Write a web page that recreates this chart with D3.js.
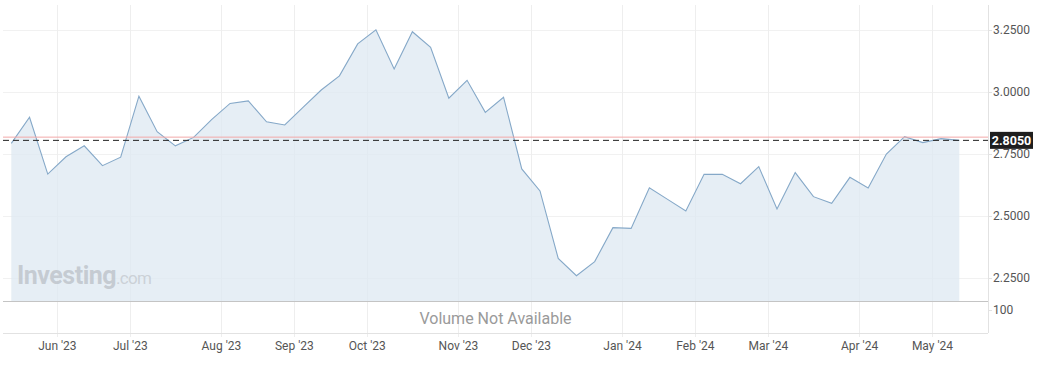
<!DOCTYPE html>
<html><head><meta charset="utf-8">
<script src="https://cdn.jsdelivr.net/npm/d3@7"></script>
<style>
html,body{margin:0;padding:0;background:#fff;}
svg{display:block;font-family:Roboto,"Noto Sans",sans-serif;}
</style></head>
<body><svg id="c" width="1041" height="369"></svg>
<script>
// ---- data ----
const startWeek = new Date(2023, 4, 14);
const values = [2.793,2.898,2.669,2.739,2.783,2.703,2.737,2.983,2.840,2.783,2.817,2.890,2.954,2.964,2.880,2.867,2.938,3.008,3.065,3.194,3.251,3.093,3.243,3.180,2.975,3.047,2.918,2.979,2.690,2.601,2.329,2.259,2.316,2.453,2.450,2.614,2.567,2.520,2.668,2.668,2.630,2.699,2.528,2.675,2.578,2.551,2.656,2.613,2.750,2.820,2.796,2.812,2.805];
const yTicks = [2.25, 2.5, 2.75, 3.0, 3.25];
const monthLabels = ["Jun '23","Jul '23","Aug '23","Sep '23","Oct '23","Nov '23","Dec '23","Jan '24","Feb '24","Mar '24","Apr '24","May '24"];
const currentValue = 2.805;
const refValue = 2.818;
const volumeTickLabel = "100";

// ---- layout ----
const svg = d3.select("#c");
const L = 3, R = 988, T = 5, B = 301, VB = 333;
const dates = values.map((v, i) => d3.timeWeek.offset(startWeek, i));
const x = d3.scaleLinear().domain([0, values.length - 1]).range([11.3, 959.3]);
const y = d3.scaleLinear().domain([2.25, 3.25]).range([278, 30]);

// month ticks at boundary between weeks of different months
const tickPos = [];
for (let i = 1; i < dates.length; i++) {
  if (dates[i].getMonth() !== dates[i-1].getMonth()) tickPos.push(i - 0.5);
}

// gridlines
const grid = svg.append("g");
grid.selectAll(".hg").data(yTicks).join("line")
  .attr("x1", L).attr("x2", R)
  .attr("y1", d => Math.round(y(d)) + 0.5).attr("y2", d => Math.round(y(d)) + 0.5)
  .attr("stroke", "#f1f1f1");
grid.selectAll(".vg").data(tickPos).join("line")
  .attr("x1", d => Math.round(x(d)) + 0.5).attr("x2", d => Math.round(x(d)) + 0.5)
  .attr("y1", T).attr("y2", VB + 4)
  .attr("stroke", "#eeeeee");

// area + line
const area = d3.area().x((d, i) => x(i)).y0(B).y1(d => y(d));
const line = d3.line().x((d, i) => x(i)).y(d => y(d));
svg.append("path").datum(values).attr("d", area).attr("fill", "#dde8f1").attr("fill-opacity", 0.75);

// watermark
const wm = svg.append("text").attr("x", 17).attr("y", 284);
wm.append("tspan").text("Investing").attr("font-size", 25).attr("font-weight", 700)
  .attr("fill", "#bfc5cc").attr("fill-opacity", 0.85).attr("letter-spacing", -0.5);
wm.append("tspan").text(".com").attr("font-size", 17).attr("fill", "#c6ccd2").attr("fill-opacity", 0.85)
  .attr("letter-spacing", -0.7);

svg.append("path").datum(values).attr("d", line).attr("fill", "none")
  .attr("stroke", "#85a8c8").attr("stroke-width", 1.1);

// reference (red) line
svg.append("line").attr("x1", L).attr("x2", R)
  .attr("y1", y(refValue)).attr("y2", y(refValue))
  .attr("stroke", "#f2a8a8").attr("stroke-width", 1);

// dashed current-value line
svg.append("line").attr("x1", L).attr("x2", 990)
  .attr("y1", y(currentValue)).attr("y2", y(currentValue))
  .attr("stroke", "#222").attr("stroke-width", 1).attr("stroke-dasharray", "6,4");

// panel separators
svg.append("line").attr("x1", L).attr("x2", R).attr("y1", B + 0.5).attr("y2", B + 0.5).attr("stroke", "#c4c4c4");
svg.append("line").attr("x1", L).attr("x2", R).attr("y1", VB + 0.5).attr("y2", VB + 0.5).attr("stroke", "#e2e2e2");
svg.append("line").attr("x1", R + 0.5).attr("x2", R + 0.5).attr("y1", T).attr("y2", VB).attr("stroke", "#e2e2e2");

// y axis labels
const yAxis = d3.axisRight(y).tickValues(yTicks).tickFormat(d3.format(".4f")).tickSize(4).tickPadding(1);
const ya = svg.append("g").attr("transform", `translate(${R},0)`).call(yAxis);
ya.select(".domain").remove();
ya.selectAll(".tick line").attr("stroke", "#e2e2e2");
ya.selectAll("text").attr("font-size", 12).attr("fill", "#555").attr("font-family", "Roboto");

// volume label
svg.append("line").attr("x1", R).attr("x2", R + 4).attr("y1", 310.5).attr("y2", 310.5).attr("stroke", "#e2e2e2");
svg.append("text").attr("x", 993).attr("y", 310).attr("dy", "0.35em")
  .attr("font-size", 12).attr("fill", "#555").text(volumeTickLabel);
svg.append("text").attr("x", (L + R) / 2).attr("y", 318).attr("dy", "0.35em")
  .attr("text-anchor", "middle").attr("font-size", 16).attr("fill", "#9a9a9a")
  .text("Volume Not Available");

// current value label box
const cy = y(currentValue);
svg.append("rect").attr("x", 990).attr("y", cy - 8.5).attr("width", 43).attr("height", 17).attr("fill", "#1e1e1e");
svg.append("text").attr("x", 1011.5).attr("y", cy).attr("dy", "0.36em").attr("text-anchor", "middle")
  .attr("font-size", 12.5).attr("font-weight", 700).attr("fill", "#fff").text(d3.format(".4f")(currentValue));

// x axis labels
const xAxis = d3.axisBottom(x).tickValues(tickPos).tickFormat((d, i) => monthLabels[i]).tickSize(0).tickPadding(8);
const xa = svg.append("g").attr("transform", `translate(0,${VB})`).call(xAxis);
xa.select(".domain").remove();
xa.selectAll("text").attr("font-size", 12).attr("fill", "#555").attr("font-family", "Roboto");
</script></body></html>
